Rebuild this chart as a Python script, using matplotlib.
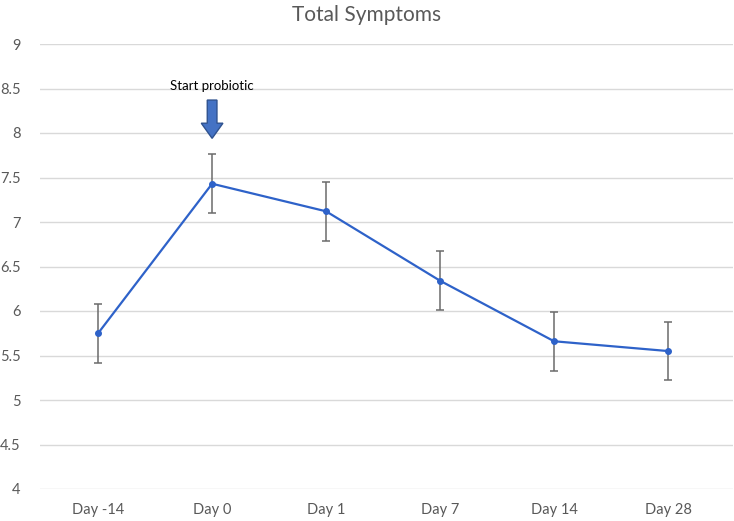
import numpy as np
import matplotlib
matplotlib.use("Agg")
import matplotlib.pyplot as plt

plt.rcParams['font.family'] = ['Lato', 'DejaVu Sans']

# Adatok
days = ["Day -14", "Day 0", "Day 1", "Day 7", "Day 14", "Day 28"]
symptoms = [5.75, 7.43, 7.12, 6.34, 5.66, 5.55]
errors = [0.33, 0.33, 0.33, 0.33, 0.33, 0.33]
start_day = 1  # "Day 0" indexe

fig = plt.figure(figsize=(7.34, 5.21), dpi=100)
ax = fig.add_axes([40/734, 32/521, 693/734, 445/521])

x = np.arange(len(days))

# Vonal + hibasavok
ax.errorbar(x, symptoms, yerr=errors, color='#2E62C9', lw=1.6,
            marker='o', ms=4, ecolor='#6b6b6b', elinewidth=1.1,
            capsize=3, capthick=1.1, zorder=3)

# Tengelyek
ax.set_xlim(-0.51, 5.57)
ax.set_ylim(4, 9)
ax.set_yticks(np.arange(4, 9.01, 0.5))
ax.set_yticklabels(["4", "4.5", "5", "5.5", "6", "6.5", "7", "7.5", "8", "8.5", "9"])
ax.set_xticks(x)
ax.set_xticklabels(days)
ax.grid(axis='y', color='#d9d9d9', lw=1)
ax.set_axisbelow(True)
for s in ax.spines.values():
    s.set_visible(False)
ax.tick_params(length=0, labelsize=10.5, colors='#595959')
ax.tick_params(axis='y', pad=14)
ax.tick_params(axis='x', pad=10)

# Cím
fig.text(0.5, 0.972, "Total Symptoms", ha='center', va='center',
         fontsize=15, color='#595959')

# Nyíl és felirat
ax.arrow(start_day, 8.37, 0, -0.43, width=0.085, head_width=0.19, head_length=0.17,
         length_includes_head=True, fc='#4472C4', ec='#2F528F', lw=1, zorder=4)
ax.text(start_day, 8.53, "Start probiotic", ha='center', va='center', fontsize=9.5,
        color='black')

fig.savefig("out.png", dpi=100)
